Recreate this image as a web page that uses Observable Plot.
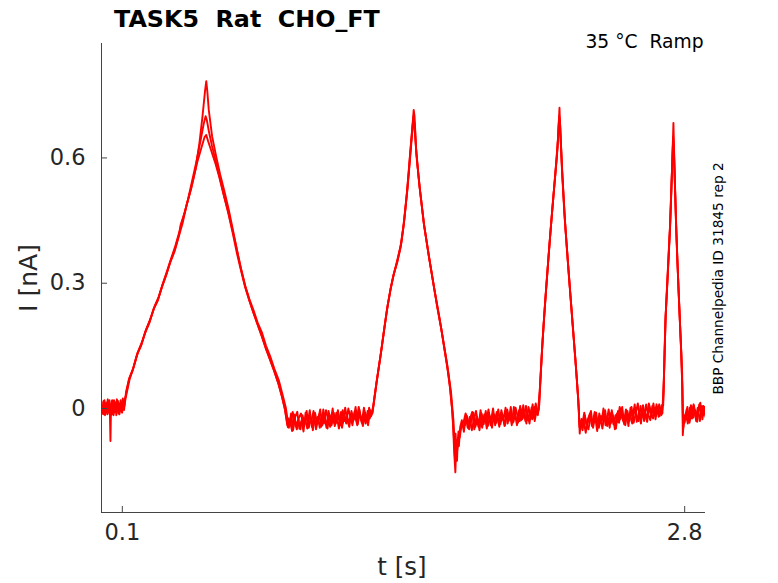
<!DOCTYPE html>
<html><head><meta charset="utf-8">
<script src="https://cdn.jsdelivr.net/npm/d3@7"></script>
<script src="https://cdn.jsdelivr.net/npm/@observablehq/plot@0.6"></script>
<style>body{margin:0;background:#fff;} #chart{width:778px;height:583px;}</style>
</head><body><div id="chart"></div>
<script>
const title = "TASK5  Rat  CHO_FT";
const subtitle = "35 °C  Ramp";
const sideNote = "BBP Channelpedia ID 31845 rep 2";
const xLabel = "t [s]";
const yLabel = "I [nA]";
const xTicks = [0.1, 2.8];
const yTicks = [0, 0.3, 0.6];
const xDomain = [0, 2.9];
const yDomain = [-0.249, 0.874];

// repetition 1: [t (s), I (nA)]
const trace1 = [
[0.000,0.016],[0.007,-0.012],[0.014,0.020],[0.021,0.002],[0.028,-0.014],[0.035,0.018],[0.040,-0.006],[0.043,-0.078],[0.046,0.010],[0.053,-0.014],[0.060,0.020],[0.067,-0.004],[0.074,0.022],[0.081,-0.012],[0.088,0.012],[0.095,-0.008],[0.102,0.024],[0.110,0.006],
[0.118,0.040],[0.131,0.068],[0.150,0.092],[0.170,0.128],[0.190,0.150],[0.210,0.182],[0.230,0.205],[0.250,0.238],[0.270,0.258],[0.291,0.292],[0.310,0.318],[0.330,0.350],[0.350,0.375],[0.371,0.412],[0.390,0.445],[0.410,0.490],[0.430,0.525],[0.451,0.572],[0.470,0.635],[0.485,0.700],[0.497,0.760],[0.503,0.784],
[0.508,0.760],[0.515,0.715],[0.531,0.652],[0.550,0.605],[0.570,0.560],[0.590,0.520],[0.611,0.476],[0.630,0.430],[0.650,0.380],[0.670,0.335],[0.691,0.292],[0.710,0.262],[0.730,0.235],[0.750,0.205],[0.771,0.181],[0.790,0.150],[0.810,0.125],[0.830,0.095],[0.851,0.068],[0.870,0.032],[0.885,0.002],[0.893,-0.025],
[0.90,-0.046],[0.91,-0.012],[0.92,-0.052],[0.93,-0.020],[0.94,-0.008],[0.95,-0.048],[0.96,-0.030],[0.97,-0.055],[0.98,-0.010],[0.99,-0.036],[1.00,-0.004],[1.01,-0.044],[1.02,-0.018],[1.03,-0.050],[1.04,-0.026],[1.05,-0.002],[1.06,-0.040],[1.07,-0.014],[1.08,-0.046],[1.09,-0.006],[1.10,-0.030],[1.11,0.000],[1.12,-0.042],[1.13,-0.020],[1.14,-0.048],[1.15,-0.008],[1.16,-0.034],[1.17,0.002],[1.18,-0.028],[1.19,-0.044],[1.20,-0.006],[1.21,-0.026],[1.22,0.004],[1.23,-0.038],[1.24,-0.012],[1.25,-0.034],[1.26,0.002],[1.27,-0.022],[1.28,-0.040],[1.29,-0.004],
[1.300,-0.012],[1.310,0.025],[1.320,0.060],[1.339,0.123],[1.355,0.180],[1.370,0.235],[1.387,0.284],[1.400,0.315],[1.420,0.352],[1.435,0.385],[1.450,0.438],[1.465,0.510],[1.475,0.565],[1.488,0.645],[1.499,0.715],[1.503,0.700],[1.510,0.625],[1.525,0.540],[1.547,0.445],[1.570,0.370],[1.590,0.310],[1.612,0.243],[1.630,0.195],[1.650,0.130],[1.665,0.085],[1.675,0.044],[1.683,0.000],[1.688,-0.040],[1.693,-0.100],[1.699,-0.153],[1.703,-0.090],[1.707,-0.125],[1.711,-0.070],[1.716,-0.090],[1.722,-0.045],
[1.73,-0.028],[1.74,-0.056],[1.75,-0.014],[1.76,-0.046],[1.77,-0.024],[1.78,-0.008],[1.79,-0.050],[1.80,-0.020],[1.81,-0.044],[1.82,-0.004],[1.83,-0.036],[1.84,-0.016],[1.85,-0.048],[1.86,-0.010],[1.87,-0.030],[1.88,0.000],[1.89,-0.040],[1.90,-0.018],[1.91,-0.044],[1.92,-0.004],[1.93,-0.028],[1.94,0.002],[1.95,-0.036],[1.96,-0.012],[1.97,-0.040],[1.98,0.004],[1.99,-0.022],[2.00,-0.034],[2.01,0.006],[2.02,-0.026],[2.03,-0.006],[2.04,-0.036],[2.05,0.004],[2.06,-0.018],[2.07,0.010],[2.08,-0.030],[2.09,-0.002],
[2.099,-0.004],[2.110,0.095],[2.123,0.204],[2.140,0.320],[2.155,0.420],[2.170,0.510],[2.187,0.604],[2.195,0.680],[2.199,0.720],[2.203,0.660],[2.215,0.540],[2.228,0.428],[2.248,0.295],[2.268,0.164],[2.282,0.070],[2.292,-0.004],[2.296,-0.060],[2.302,-0.030],
[2.31,-0.052],[2.32,-0.016],[2.33,-0.044],[2.34,-0.024],[2.35,-0.006],[2.36,-0.046],[2.37,-0.020],[2.38,-0.054],[2.39,-0.012],[2.40,-0.036],[2.41,0.000],[2.42,-0.040],[2.43,-0.018],[2.44,-0.046],[2.45,-0.004],[2.46,-0.030],[2.47,-0.048],[2.48,-0.006],[2.49,-0.026],[2.50,0.004],[2.51,-0.038],[2.52,-0.010],[2.53,-0.042],[2.54,0.002],[2.55,-0.024],[2.56,0.010],[2.57,-0.032],[2.58,-0.008],[2.59,-0.036],[2.60,0.008],[2.61,-0.016],[2.62,-0.032],[2.63,0.006],[2.64,-0.020],[2.65,0.012],[2.66,-0.026],[2.67,0.004],[2.68,-0.018],[2.69,0.008],
[2.697,0.008],[2.707,0.204],[2.720,0.330],[2.731,0.444],[2.740,0.580],[2.746,0.684],[2.752,0.560],[2.764,0.364],[2.776,0.220],[2.788,0.084],[2.791,-0.064],[2.796,-0.030],
[2.80,-0.034],[2.81,-0.002],[2.82,-0.028],[2.83,0.008],[2.84,-0.022],[2.85,-0.004],[2.86,-0.032],[2.87,0.010],[2.88,-0.016],[2.89,0.006],[2.90,-0.020]
];

// repetition 2
const trace2 = [
[0.003,-0.010],[0.010,0.018],[0.017,-0.016],[0.024,0.014],[0.031,-0.004],[0.038,0.020],[0.045,-0.016],[0.050,0.012],[0.057,-0.010],[0.064,0.016],[0.071,-0.016],[0.078,0.010],[0.085,-0.006],[0.092,0.020],[0.099,-0.010],[0.106,0.018],
[0.118,0.030],[0.135,0.070],[0.155,0.100],[0.175,0.135],[0.195,0.160],[0.215,0.190],[0.235,0.215],[0.255,0.245],[0.275,0.268],[0.295,0.300],[0.315,0.330],[0.335,0.360],[0.355,0.390],[0.375,0.425],[0.395,0.462],[0.415,0.500],[0.435,0.545],[0.455,0.590],[0.475,0.640],[0.490,0.680],[0.500,0.700],[0.506,0.690],[0.515,0.665],[0.530,0.630],[0.550,0.590],[0.570,0.548],[0.590,0.505],[0.610,0.465],[0.630,0.420],[0.650,0.372],[0.670,0.330],[0.690,0.290],[0.710,0.258],[0.730,0.228],[0.750,0.200],[0.770,0.172],[0.790,0.142],[0.810,0.115],[0.830,0.088],[0.850,0.058],[0.868,0.025],[0.882,-0.005],[0.895,-0.045],
[0.905,-0.030],[0.915,-0.054],[0.925,-0.014],[0.935,-0.042],[0.945,-0.026],[0.955,-0.050],[0.965,-0.016],[0.975,-0.038],[0.985,-0.006],[0.995,-0.046],[1.005,-0.022],[1.015,-0.052],[1.025,-0.010],[1.035,-0.034],[1.045,-0.014],[1.055,-0.044],[1.065,-0.002],[1.075,-0.030],[1.085,-0.048],[1.095,-0.016],[1.105,-0.040],[1.115,-0.010],[1.125,-0.036],[1.135,-0.004],[1.145,-0.030],[1.155,-0.046],[1.165,-0.014],[1.175,-0.036],[1.185,0.000],[1.195,-0.020],[1.205,-0.040],[1.215,-0.008],[1.225,-0.030],[1.235,0.004],[1.245,-0.024],[1.255,-0.042],[1.265,-0.010],[1.275,-0.032],[1.285,0.002],[1.295,-0.018],
[1.302,-0.008],[1.315,0.040],[1.330,0.095],[1.345,0.145],[1.360,0.200],[1.375,0.250],[1.390,0.290],[1.405,0.325],[1.420,0.355],[1.440,0.398],[1.455,0.458],[1.470,0.530],[1.485,0.620],[1.495,0.680],[1.500,0.690],[1.506,0.650],[1.515,0.590],[1.530,0.520],[1.550,0.435],[1.575,0.355],[1.600,0.280],[1.620,0.225],[1.640,0.165],[1.660,0.105],[1.678,0.040],[1.690,-0.030],[1.695,-0.080],[1.700,-0.060],[1.705,-0.110],[1.710,-0.085],[1.716,-0.060],[1.724,-0.050],[1.735,-0.040],
[1.745,-0.040],[1.755,-0.018],[1.765,-0.050],[1.775,-0.030],[1.785,-0.010],[1.795,-0.044],[1.805,-0.026],[1.815,-0.052],[1.825,-0.012],[1.835,-0.038],[1.845,-0.006],[1.855,-0.042],[1.865,-0.022],[1.875,-0.046],[1.885,-0.014],[1.895,-0.034],[1.905,-0.002],[1.915,-0.038],[1.925,-0.016],[1.935,-0.042],[1.945,-0.008],[1.955,-0.030],[1.965,0.004],[1.975,-0.034],[1.985,-0.014],[1.995,-0.040],[2.005,-0.004],[2.015,-0.028],[2.025,0.008],[2.035,-0.030],[2.045,-0.012],[2.055,-0.036],[2.065,0.002],[2.075,-0.022],[2.085,0.012],[2.095,-0.016],
[2.102,0.010],[2.115,0.140],[2.130,0.255],[2.145,0.355],[2.160,0.450],[2.175,0.540],[2.190,0.630],[2.197,0.695],[2.201,0.690],[2.210,0.580],[2.222,0.470],[2.240,0.345],[2.258,0.230],[2.275,0.120],[2.288,0.030],[2.294,-0.030],[2.299,-0.050],[2.305,-0.025],
[2.315,-0.030],[2.325,-0.058],[2.335,-0.026],[2.345,-0.012],[2.355,-0.042],[2.365,-0.030],[2.375,-0.010],[2.385,-0.044],[2.395,-0.022],[2.405,-0.048],[2.415,-0.014],[2.425,-0.032],[2.435,-0.002],[2.445,-0.036],[2.455,-0.016],[2.465,-0.050],[2.475,-0.012],[2.485,-0.034],[2.495,0.000],[2.505,-0.028],[2.515,-0.040],[2.525,-0.006],[2.535,-0.030],[2.545,0.004],[2.555,-0.034],[2.565,-0.012],[2.575,0.012],[2.585,-0.024],[2.595,-0.004],[2.605,-0.030],[2.615,0.010],[2.625,-0.014],[2.635,-0.028],[2.645,0.006],[2.655,-0.016],[2.665,0.010],[2.675,-0.020],[2.685,0.002],[2.693,-0.012],
[2.699,0.040],[2.708,0.215],[2.718,0.320],[2.730,0.440],[2.739,0.570],[2.745,0.650],[2.750,0.590],[2.760,0.420],[2.772,0.270],[2.784,0.130],[2.789,0.040],[2.793,-0.045],[2.798,-0.020],
[2.805,-0.012],[2.815,-0.036],[2.825,0.002],[2.835,-0.024],[2.845,0.006],[2.855,-0.030],[2.865,-0.004],[2.875,0.014],[2.885,-0.026],[2.895,0.004],[2.900,-0.012]
];

// repetition 3 (lowest first peak)
const trace3 = [
[0.002,0.004],[0.009,-0.014],[0.016,0.010],[0.023,-0.008],[0.030,0.022],[0.037,-0.012],[0.044,0.006],[0.051,0.020],[0.058,-0.016],[0.065,0.004],[0.072,-0.010],[0.079,0.018],[0.086,-0.014],[0.093,0.008],[0.100,0.016],[0.108,-0.004],
[0.118,0.035],[0.133,0.072],[0.152,0.096],[0.172,0.132],[0.192,0.155],[0.212,0.186],[0.232,0.210],[0.252,0.240],[0.272,0.262],[0.293,0.296],[0.313,0.324],[0.333,0.355],[0.353,0.382],[0.373,0.418],[0.380,0.440],[0.400,0.470],[0.420,0.508],[0.440,0.548],[0.460,0.590],[0.480,0.625],[0.495,0.650],[0.503,0.655],[0.512,0.640],[0.525,0.620],[0.545,0.590],[0.565,0.555],[0.585,0.515],[0.605,0.478],[0.625,0.436],[0.645,0.392],[0.668,0.338],[0.688,0.296],[0.708,0.262],[0.728,0.232],[0.748,0.204],[0.768,0.176],[0.788,0.146],[0.808,0.120],[0.828,0.092],[0.848,0.062],[0.866,0.030],[0.880,0.000],[0.892,-0.040],
[0.898,-0.024],[0.908,-0.038],[0.918,-0.008],[0.928,-0.034],[0.938,-0.050],[0.948,-0.022],[0.958,-0.012],[0.968,-0.040],[0.978,-0.026],[0.988,-0.048],[0.998,-0.018],[1.008,-0.030],[1.018,-0.006],[1.028,-0.040],[1.038,-0.020],[1.048,-0.046],[1.058,-0.016],[1.068,-0.036],[1.078,-0.004],[1.088,-0.026],[1.098,-0.044],[1.108,-0.020],[1.118,-0.036],[1.128,-0.010],[1.138,-0.022],[1.148,-0.040],[1.158,-0.004],[1.168,-0.030],[1.178,-0.016],[1.188,-0.036],[1.198,-0.012],[1.208,-0.030],[1.218,-0.018],[1.228,-0.040],[1.238,-0.002],[1.248,-0.028],[1.258,-0.014],[1.268,-0.036],[1.278,-0.006],[1.288,-0.024],[1.298,-0.010],
[1.306,0.010],[1.320,0.062],[1.338,0.120],[1.355,0.182],[1.372,0.240],[1.388,0.287],[1.402,0.320],[1.420,0.350],[1.437,0.388],[1.452,0.442],[1.467,0.518],[1.480,0.600],[1.492,0.670],[1.498,0.700],[1.504,0.680],[1.512,0.610],[1.527,0.532],[1.548,0.442],[1.572,0.365],[1.595,0.295],[1.615,0.236],[1.635,0.180],[1.655,0.118],[1.672,0.055],[1.685,-0.010],[1.692,-0.070],[1.697,-0.120],[1.702,-0.075],[1.708,-0.100],[1.714,-0.055],[1.720,-0.070],[1.728,-0.040],
[1.738,-0.034],[1.748,-0.012],[1.758,-0.046],[1.768,-0.020],[1.778,-0.052],[1.788,-0.026],[1.798,-0.006],[1.808,-0.034],[1.818,-0.022],[1.828,-0.046],[1.838,-0.014],[1.848,-0.030],[1.858,-0.002],[1.868,-0.040],[1.878,-0.018],[1.888,-0.030],[1.898,-0.008],[1.908,-0.036],[1.918,-0.010],[1.928,-0.024],[1.938,-0.040],[1.948,-0.002],[1.958,-0.026],[1.968,-0.014],[1.978,-0.032],[1.988,0.002],[1.998,-0.018],[2.008,-0.030],[2.018,-0.002],[2.028,-0.022],[2.038,0.006],[2.048,-0.028],[2.058,-0.008],[2.068,-0.026],[2.078,0.004],[2.088,-0.014],[2.096,-0.006],
[2.104,0.040],[2.118,0.165],[2.133,0.275],[2.148,0.375],[2.163,0.468],[2.178,0.556],[2.192,0.645],[2.198,0.700],[2.202,0.680],[2.212,0.565],[2.225,0.450],[2.244,0.318],[2.262,0.200],[2.278,0.100],[2.290,0.015],[2.295,-0.045],[2.300,-0.035],
[2.308,-0.040],[2.318,-0.010],[2.328,-0.036],[2.338,-0.050],[2.348,-0.020],[2.358,-0.034],[2.368,-0.008],[2.378,-0.030],[2.388,-0.046],[2.398,-0.018],[2.408,-0.028],[2.418,-0.004],[2.428,-0.042],[2.438,-0.024],[2.448,-0.010],[2.458,-0.038],[2.468,-0.016],[2.478,-0.032],[2.488,0.004],[2.498,-0.020],[2.508,-0.034],[2.518,-0.002],[2.528,-0.026],[2.538,-0.014],[2.548,-0.036],[2.558,0.000],[2.568,-0.018],[2.578,-0.030],[2.588,0.006],[2.598,-0.020],[2.608,-0.006],[2.618,-0.026],[2.628,0.012],[2.638,-0.010],[2.648,-0.024],[2.658,0.002],[2.668,-0.012],[2.678,0.010],[2.688,-0.016],[2.694,0.004],
[2.700,0.070],[2.709,0.225],[2.719,0.325],[2.729,0.430],[2.738,0.555],[2.744,0.640],[2.749,0.610],[2.758,0.450],[2.770,0.290],[2.782,0.150],[2.789,0.050],[2.792,-0.050],[2.797,-0.025],
[2.803,-0.020],[2.813,0.004],[2.823,-0.034],[2.833,-0.010],[2.843,0.010],[2.853,-0.022],[2.863,0.002],[2.873,-0.030],[2.883,0.006],[2.893,-0.014],[2.900,0.000]
];

const rows = [];
[trace1, trace2, trace3].forEach((tr, k) => tr.forEach(([t, i]) => rows.push({t, i, rep: k + 1})));

const W = 778, H = 583, mL = 101, mR = 73, mT = 43, mB = 71;
const fw = W - mL - mR, fh = H - mT - mB;
const axisColor = "#262626";

const chart = Plot.plot({
  width: W, height: H,
  marginLeft: mL, marginRight: mR, marginTop: mT, marginBottom: mB,
  style: {fontFamily: "DejaVu Sans", background: "white", overflow: "visible"},
  x: {domain: xDomain},
  y: {domain: yDomain},
  marks: [
    Plot.line(rows, {x: "t", y: "i", z: "rep", stroke: "#ff0000", strokeWidth: 1.9, clip: true}),
    Plot.ruleX([xDomain[0]], {stroke: "#444"}),
    Plot.ruleY([yDomain[0]], {stroke: "#444"}),
    Plot.gridX(xTicks, {insetTop: fh - 6, stroke: "#444", strokeOpacity: 1}),
    Plot.gridY(yTicks, {insetRight: fw - 6, stroke: "#444", strokeOpacity: 1}),
    Plot.axisX(xTicks, {tickSize: 0, tickPadding: 12, fontSize: 22.5, color: axisColor, label: null, tickFormat: d => String(d)}),
    Plot.axisY(yTicks, {tickSize: 0, tickPadding: 16, fontSize: 22.5, color: axisColor, label: null, tickFormat: d => String(d)})
  ]
});
document.getElementById("chart").appendChild(chart);

const svg = d3.select(chart);
svg.append("text").attr("x", 114).attr("y", 26.5).attr("text-anchor", "start")
  .attr("font-family", "DejaVu Sans").attr("font-weight", "bold").attr("font-size", 23.8)
  .attr("fill", "#000").style("white-space", "pre").text(title);
svg.append("text").attr("x", 703.5).attr("y", 47.5).attr("text-anchor", "end")
  .attr("font-family", "DejaVu Sans").attr("font-size", 18.7)
  .attr("fill", "#000").style("white-space", "pre").text(subtitle);
svg.append("text").attr("transform", "translate(722.5,278.5) rotate(-90)").attr("text-anchor", "middle")
  .attr("font-family", "DejaVu Sans").attr("font-size", 13.7)
  .attr("fill", "#000").text(sideNote);
svg.append("text").attr("transform", "translate(36.7,278) rotate(-90)").attr("text-anchor", "middle")
  .attr("font-family", "DejaVu Sans").attr("font-size", 25)
  .attr("fill", axisColor).text(yLabel);
svg.append("text").attr("x", 402).attr("y", 575).attr("text-anchor", "middle")
  .attr("font-family", "DejaVu Sans").attr("font-size", 24.5)
  .attr("fill", axisColor).text(xLabel);
</script>
</body></html>
